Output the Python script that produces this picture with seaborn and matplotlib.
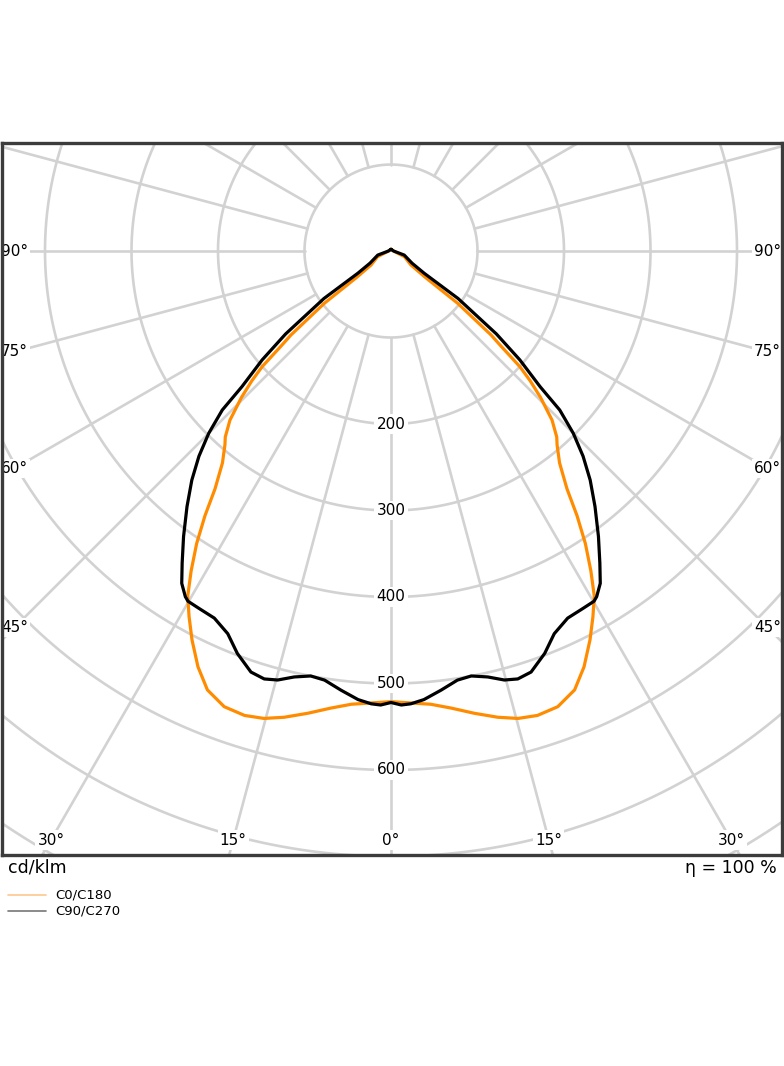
import numpy as np
import pandas as pd
import matplotlib
matplotlib.use("Agg")
import matplotlib.pyplot as plt
from matplotlib.lines import Line2D
import seaborn as sns

# ---- data (half curves, gamma in degrees from nadir, intensity in cd/klm) ----
gamma_c0 = [0, 2.5, 5, 7.5, 10.2, 12.9, 15.2, 17.5, 20.1, 22.7, 24.9, 27.1,
            28.9, 30.5, 32, 33.6, 35.1, 36.5, 38.5, 40.6, 41.7, 43.6, 45.6,
            47, 48.1, 49.2, 50, 51.9, 52.5, 55, 67, 90, 180]
cdklm_c0 = [521, 523, 526, 533, 543, 553, 560, 563, 561, 550, 530, 505,
            483, 463, 436, 406, 374, 342, 313, 295, 288, 270, 242,
            220, 200, 167, 151, 98, 50, 28, 17, 3, 2]

gamma_c90 = [0, 1.3, 2.5, 4.2, 6.5, 8.8, 10.7, 12.8, 14.8, 16.5, 18.4, 20.9,
             23.1, 25.7, 28.3, 30.1, 30.75, 32.2, 33.8, 36, 38.6, 41, 43.1,
             45, 46.7, 47.7, 49.8, 51.8, 54.7, 56.2, 60, 73, 90, 180]
cdklm_c90 = [522, 525, 524, 520, 511, 502, 500, 505, 513, 516, 513, 498,
             481, 471, 469, 468, 465, 454, 434, 408, 378, 351, 325,
             298, 268, 233, 195, 155, 95, 46, 28, 16, 3, 2]

series_names = ["C0/C180", "C90/C270"]
series_colors = ["#ff8c00", "#000000"]
legend_colors = ["#ffc78c", "#777777"]
radial_ticks = [200, 300, 400, 500, 600]
grid_circles = [100, 200, 300, 400, 500, 600, 700, 800, 900, 1000]
bottom_angles = [-30, -15, 0, 15, 30]
side_angles = [90, 75, 60, 45]
unit_label = "cd/klm"
eff_label = "η = 100 %"

sns.set_style("white")
plt.rcParams['font.family'] = ['DejaVu Sans']
plt.rcParams['text.color'] = 'black'


def mirror(g, r):
    g = np.asarray(g, float)
    r = np.asarray(r, float)
    ang = np.concatenate([-g[::-1], g[1:]])
    rad = np.concatenate([r[::-1], r[1:]])
    return ang, rad


frames = []
for name, g, r in zip(series_names, [gamma_c0, gamma_c90], [cdklm_c0, cdklm_c90]):
    ang, rad = mirror(g, r)
    th = np.radians(ang)
    frames.append(pd.DataFrame({"x": rad * np.sin(th), "y": -rad * np.cos(th),
                                "series": name}))
df = pd.concat(frames, ignore_index=True)

fig = plt.figure(figsize=(7.84, 10.66), dpi=100)
ax = fig.add_axes([2 / 784, (1066 - 855) / 1066, 780 / 784, 712 / 1066])
ax.set_xlim(-449.7, 452.0)
ax.set_ylim(-698.3, 124.9)

grid_col = "#d2d2d2"
t = np.linspace(0, 2 * np.pi, 721)
for rc in grid_circles:
    ax.plot(rc * np.cos(t), rc * np.sin(t), color=grid_col, lw=1.9, zorder=1)
for a in range(0, 360, 15):
    ar = np.radians(a)
    ax.plot([100 * np.sin(ar), 1200 * np.sin(ar)],
            [-100 * np.cos(ar), -1200 * np.cos(ar)], color=grid_col, lw=1.9, zorder=1)

bb = dict(facecolor="white", edgecolor="none", pad=1.5)
for rt in radial_ticks:
    ax.text(0, -rt, f"{rt}", ha="center", va="center", fontsize=11, bbox=bb, zorder=3)

y_lab = -681
for a in bottom_angles:
    ax.text(-y_lab * np.tan(np.radians(a)), y_lab, f"{abs(a)}°", ha="center",
            va="center", fontsize=11, bbox=bb, zorder=3)
x_lab = 435
for a in side_angles:
    yy = -x_lab / np.tan(np.radians(a))
    for s in (-1, 1):
        ax.text(s * x_lab, yy, f"{a}°", ha="center", va="center", fontsize=11,
                bbox=bb, zorder=3)

sns.lineplot(data=df, x="x", y="y", hue="series", sort=False, estimator=None,
             palette=dict(zip(series_names, series_colors)), linewidth=2.3,
             legend=False, ax=ax, zorder=5)
for ln in ax.get_lines()[-2:]:
    ln.set_solid_joinstyle("round")
    ln.set_solid_capstyle("round")

ax.set_xticks([])
ax.set_yticks([])
ax.set_xlabel("")
ax.set_ylabel("")
for sp in ax.spines.values():
    sp.set_visible(True)
    sp.set_color("#3c3c3c")
    sp.set_linewidth(2.4)
    sp.set_zorder(10)

fig.text(8 / 784, 1 - 868 / 1066, unit_label, ha="left", va="center", fontsize=12.5)
fig.text(777 / 784, 1 - 868 / 1066, eff_label, ha="right", va="center", fontsize=12.5)
for i, (name, col) in enumerate(zip(series_names, legend_colors)):
    yy = 1 - (895 + 16 * i) / 1066
    fig.add_artist(Line2D([8 / 784, 46 / 784], [yy, yy], color=col, lw=1.2))
    fig.text(55 / 784, yy, name, ha="left", va="center", fontsize=9.5)

fig.savefig("out.png", dpi=100)
